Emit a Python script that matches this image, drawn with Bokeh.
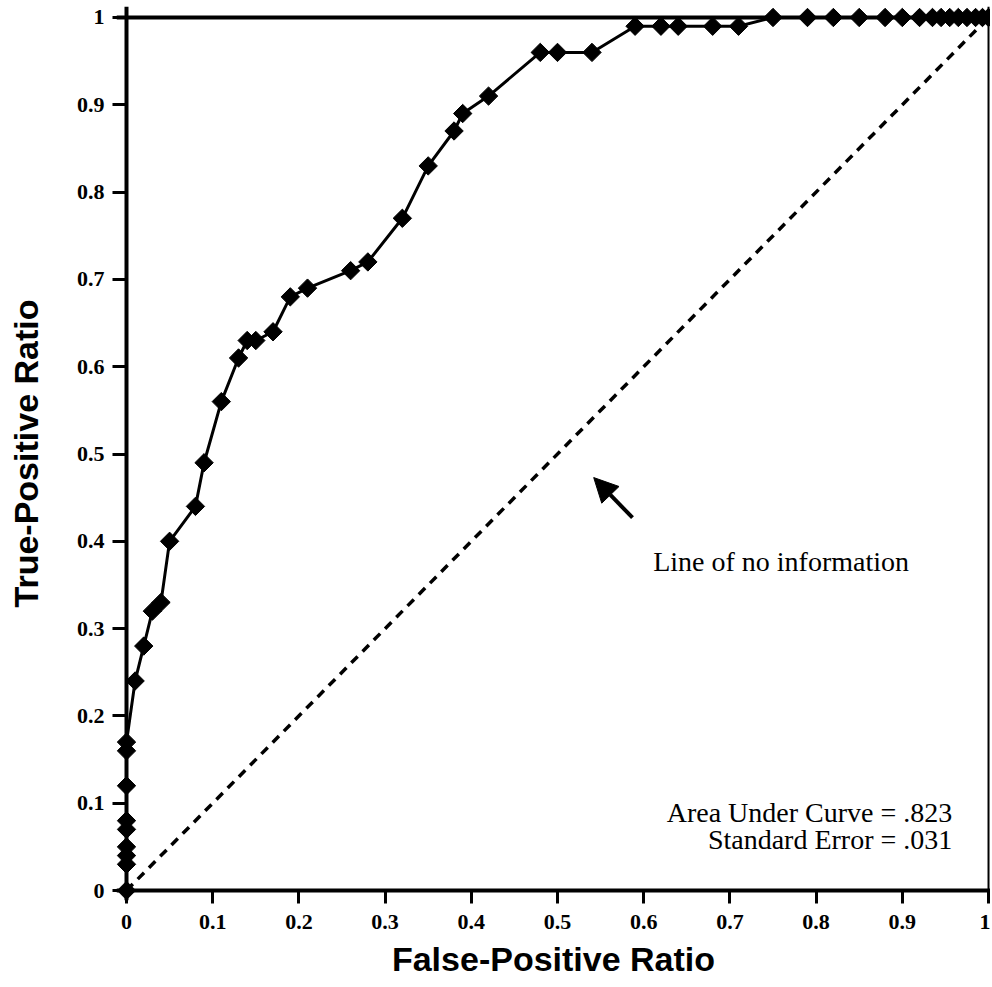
import numpy as np
from bokeh.plotting import figure
from bokeh.models import (Range1d, FixedTicker, CustomJSTickFormatter, Span, Label,
                          Arrow, NormalHead)
from bokeh.embed import file_html
from bokeh.resources import INLINE

# ROC curve points
fpr = [0, 0, 0, 0, 0, 0, 0, 0, 0,
       0.01, 0.02, 0.03, 0.04, 0.05, 0.08, 0.09, 0.11, 0.13, 0.14, 0.15, 0.17,
       0.19, 0.21, 0.26, 0.28, 0.32, 0.35, 0.38, 0.39, 0.42, 0.48, 0.50, 0.54,
       0.59, 0.62, 0.64, 0.68, 0.71, 0.75, 0.79, 0.82, 0.85, 0.88, 0.90, 0.92,
       0.935, 0.945, 0.955, 0.965, 0.975, 0.985, 0.993, 1.0]
tpr = [0, 0.03, 0.04, 0.05, 0.07, 0.08, 0.12, 0.16, 0.17,
       0.24, 0.28, 0.32, 0.33, 0.40, 0.44, 0.49, 0.56, 0.61, 0.63, 0.63, 0.64,
       0.68, 0.69, 0.71, 0.72, 0.77, 0.83, 0.87, 0.89, 0.91, 0.96, 0.96, 0.96,
       0.99, 0.99, 0.99, 0.99, 0.99, 1.0, 1.0, 1.0, 1.0, 1.0, 1.0, 1.0,
       1.0, 1.0, 1.0, 1.0, 1.0, 1.0, 1.0, 1.0]

# Line of no information
diag_x = [0, 1]
diag_y = [0, 1]

tick_values = [0, 0.1, 0.2, 0.3, 0.4, 0.5, 0.6, 0.7, 0.8, 0.9, 1.0]

x_title = "False-Positive Ratio"
y_title = "True-Positive Ratio"
note_text = "Line of no information"
auc_text = "Area Under Curve = .823"
se_text = "Standard Error = .031"

p = figure(width=990, height=985, output_backend="svg", toolbar_location=None,
           x_range=Range1d(-0.0116, 1.0023), y_range=Range1d(-0.01145, 1.0126),
           min_border_left=116, min_border_right=0, min_border_top=6,
           min_border_bottom=85)
p.outline_line_color = None
p.xgrid.visible = False
p.ygrid.visible = False
p.background_fill_color = "white"
p.border_fill_color = "white"

fmt = CustomJSTickFormatter(code="return tick.toFixed(1).replace(/\\.0$/, '');")
for ax in (p.xaxis[0], p.yaxis[0]):
    ax.ticker = FixedTicker(ticks=tick_values)
    ax.formatter = fmt
    ax.axis_line_color = None
    ax.major_tick_line_width = 3
    ax.major_tick_line_color = "black"
    ax.minor_tick_line_color = None
    ax.major_label_text_font = "Liberation Serif"
    ax.major_label_text_font_style = "bold"
    ax.major_label_text_font_size = "22px"
    ax.major_label_text_color = "black"
    ax.axis_label_text_font = "Liberation Sans"
    ax.axis_label_text_font_style = "bold"
    ax.axis_label_text_font_size = "34px"
    ax.axis_label_text_color = "black"

xa = p.xaxis[0]
xa.major_tick_in = 10
xa.major_tick_out = 3
xa.major_label_standoff = 11
xa.axis_label = x_title
xa.axis_label_standoff = 8

ya = p.yaxis[0]
ya.major_tick_in = 10
ya.major_tick_out = 4
ya.major_label_standoff = 8
ya.axis_label = y_title
ya.axis_label_standoff = 29

# frame edges (axes lines at 0, top at 1, right at 1)
p.add_layout(Span(location=0, dimension="height", line_color="black", line_width=4))
p.add_layout(Span(location=0, dimension="width", line_color="black", line_width=4))
p.add_layout(Span(location=1, dimension="width", line_color="black", line_width=4))
p.add_layout(Span(location=1, dimension="height", line_color="black", line_width=2))

# diagonal
p.line(diag_x, diag_y, line_color="black", line_width=3.5, line_dash="9 7")

# ROC curve
p.line(fpr, tpr, line_color="black", line_width=3)
p.scatter(fpr, tpr, marker="square", angle=np.pi / 4, size=13,
          fill_color="black", line_color="black")

# arrow
p.add_layout(Arrow(x_start=0.587, y_start=0.427, x_end=0.542, y_end=0.473,
                   line_width=4, line_color="black",
                   end=NormalHead(size=24, fill_color="black", line_color="black")))

serif = dict(text_font="Liberation Serif", text_font_size="28px", text_color="black")
p.add_layout(Label(x=0.611, y=0.377, text=note_text, text_align="left",
                   text_baseline="alphabetic", **serif))
p.add_layout(Label(x=0.958, y=0.0893, text=auc_text, text_align="right",
                   text_baseline="alphabetic", **serif))
p.add_layout(Label(x=0.958, y=0.0584, text=se_text, text_align="right",
                   text_baseline="alphabetic", **serif))

open("out.html", "w").write(file_html(p, INLINE))
